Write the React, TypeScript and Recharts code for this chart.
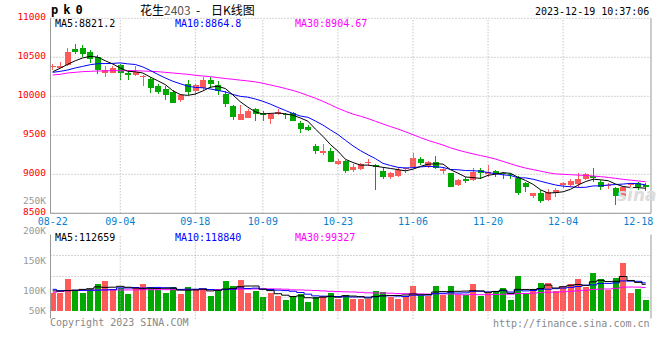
import React from 'react';
import { ComposedChart, Bar, Line, XAxis, YAxis, ReferenceLine, CartesianGrid, Cell } from 'recharts';

// ---------- data ----------
const TICK_IDX = [0, 9, 19, 28, 38, 48, 58, 68, 78];
const TICK_LABELS = ['08-22', '09-04', '09-18', '10-09', '10-23', '11-06', '11-20', '12-04', '12-18'];
const GRID_IDX = [9, 19, 28, 38, 48, 58, 68];
const PRICE_TICKS = [8500, 9000, 9500, 10000, 10500, 11000];
const VOL_TICKS = [50000, 100000, 150000, 200000, 250000];

const OPEN = [10375, 10365, 10397, 10606, 10619, 10568, 10500, 10294, 10303, 10397,
  10303, 10269, 10252, 10217, 10128, 10094, 10055, 9957, 10158, 10064,
  10106, 10213, 10149, 10034, 9876, 9700, 9726, 9838, 9780, 9714,
  9769, 9774, 9786, 9658, 9611, 9367, 9273, 9295, 9133, 9166,
  9055, 9064, 9141, 9115, 9047, 8961, 8978, 9064, 9089, 9196,
  9111, 9162, 9047, 9012, 8859, 8940, 8927, 9055, 9004, 9042,
  9012, 9004, 8948, 8893, 8722, 8765, 8671, 8765, 8863, 8859,
  8876, 8936, 8978, 8906, 8850, 8820, 8722, 8863, 8893, 8863];
const HIGH = [10415, 10440, 10619, 10670, 10662, 10598, 10525, 10384, 10384, 10414,
  10329, 10393, 10269, 10247, 10162, 10136, 10076, 10029, 10209, 10158,
  10243, 10247, 10200, 10064, 9893, 9884, 9838, 9850, 9816, 9786,
  9842, 9790, 9799, 9688, 9628, 9389, 9389, 9337, 9201, 9188,
  9132, 9141, 9192, 9132, 9077, 9034, 9077, 9089, 9269, 9218,
  9175, 9235, 9089, 9021, 8936, 8970, 9077, 9077, 9119, 9055,
  9034, 9021, 8978, 8906, 8765, 8799, 8807, 8820, 8906, 8936,
  9012, 9012, 9077, 8927, 8884, 8842, 8850, 8893, 8906, 8893];
const LOW = [10335, 10360, 10388, 10546, 10504, 10427, 10290, 10243, 10299, 10213,
  10213, 10265, 10136, 10042, 10029, 9957, 9914, 9931, 10021, 10017,
  10076, 10106, 10021, 9863, 9700, 9697, 9722, 9688, 9688, 9650,
  9756, 9714, 9680, 9530, 9560, 9265, 9243, 9158, 9124, 9017,
  9034, 9055, 9106, 8805, 8936, 8936, 8961, 9021, 9077, 9119,
  9077, 9064, 9004, 8833, 8850, 8893, 8918, 8936, 8970, 8970,
  8936, 8936, 8735, 8777, 8692, 8628, 8662, 8713, 8820, 8842,
  8842, 8927, 8906, 8799, 8807, 8607, 8713, 8820, 8799, 8790];
const CLOSE = [10385, 10390, 10568, 10572, 10546, 10482, 10341, 10337, 10363, 10294,
  10269, 10307, 10260, 10106, 10055, 10021, 9918, 10012, 10055, 10141,
  10213, 10162, 10072, 9906, 9735, 9774, 9816, 9774, 9765, 9778,
  9799, 9757, 9688, 9586, 9573, 9295, 9295, 9158, 9166, 9047,
  9089, 9132, 9154, 9098, 8970, 9021, 9055, 9077, 9205, 9149,
  9162, 9077, 9064, 8842, 8927, 8918, 9034, 9021, 9034, 9004,
  8999, 8991, 8765, 8833, 8756, 8662, 8777, 8799, 8884, 8918,
  8936, 8999, 8948, 8842, 8863, 8722, 8842, 8884, 8833, 8842];
const MA5 = [10315, 10360, 10410, 10455, 10492, 10512, 10502, 10456, 10414, 10363,
  10321, 10314, 10299, 10247, 10199, 10150, 10072, 10022, 10012, 10029,
  10068, 10117, 10129, 10099, 10018, 9930, 9861, 9801, 9773, 9781,
  9786, 9775, 9757, 9722, 9681, 9580, 9487, 9381, 9297, 9192,
  9151, 9118, 9118, 9104, 9089, 9075, 9060, 9044, 9066, 9101,
  9130, 9134, 9131, 9059, 9014, 8966, 8957, 8948, 8987, 9002,
  9021, 9012, 8961, 8921, 8871, 8801, 8759, 8765, 8776, 8808,
  8863, 8907, 8937, 8929, 8918, 8875, 8843, 8831, 8829, 8821.2];
const MA10 = [10307, 10320, 10337, 10363, 10384, 10405, 10418, 10420, 10422, 10428,
  10416, 10408, 10377, 10331, 10281, 10235, 10193, 10161, 10130, 10114,
  10109, 10094, 10076, 10056, 10024, 9999, 9989, 9965, 9936, 9900,
  9858, 9818, 9779, 9747, 9731, 9683, 9631, 9569, 9510, 9436,
  9365, 9303, 9250, 9201, 9140, 9113, 9089, 9081, 9085, 9095,
  9102, 9097, 9088, 9062, 9058, 9048, 9046, 9040, 9023, 9008,
  8993, 8985, 8955, 8954, 8937, 8911, 8886, 8863, 8848, 8840,
  8832, 8833, 8851, 8852, 8863, 8869, 8875, 8884, 8879, 8864.8];
const MA30 = [10273, 10282, 10299, 10307, 10316, 10320, 10324, 10326, 10329, 10329,
  10329, 10329, 10324, 10320, 10316, 10307, 10299, 10290, 10282, 10269,
  10260, 10252, 10240, 10228, 10218, 10207, 10197, 10185, 10167, 10145,
  10124, 10100, 10075, 10045, 10010, 9975, 9935, 9892, 9846, 9808,
  9772, 9745, 9715, 9680, 9645, 9612, 9580, 9545, 9508, 9470,
  9435, 9405, 9375, 9340, 9310, 9285, 9262, 9240, 9220, 9195,
  9165, 9135, 9105, 9080, 9060, 9040, 9020, 9005, 9000, 8995,
  8990, 8985, 8978, 8970, 8960, 8948, 8935, 8925, 8915, 8904.67];

const VOL = [77400, 77400, 135000, 88600, 77400, 91500, 115400, 126600, 91500, 95700,
  71800, 97100, 115400, 101300, 88600, 77400, 101300, 71800, 101300, 92900,
  92900, 64700, 85800, 126600, 106900, 130900, 77400, 85800, 59100, 77400,
  64700, 46400, 59100, 71800, 38000, 59100, 64700, 77400, 52100, 68900,
  52100, 52100, 49200, 85800, 80200, 60500, 52100, 60500, 106900, 63300,
  63300, 106900, 68900, 106900, 68900, 68900, 115400, 63300, 77400, 85800,
  98500, 46400, 149100, 74600, 85800, 119600, 119600, 85800, 102700, 115400,
  135000, 102700, 160400, 135000, 88600, 139300, 204000, 77400, 94300, 46400];
const VMA5 = [85000, 84000, 86000, 88000, 91200, 94000, 101600, 99900, 100500, 104100,
  100200, 96500, 94300, 96300, 94800, 96000, 96800, 88100, 88100, 88900,
  92000, 84700, 87500, 92600, 95400, 103000, 105500, 105500, 92000, 86100,
  72900, 66700, 61300, 63900, 56000, 54900, 58500, 62200, 58300, 64400,
  63000, 60500, 54900, 61600, 63900, 65600, 65600, 67800, 72000, 68700,
  69200, 80200, 81900, 81900, 83000, 84100, 85800, 84700, 78800, 82200,
  88100, 74300, 91400, 90900, 90900, 95100, 109700, 97100, 102700, 108600,
  111700, 108300, 123200, 129700, 124300, 125200, 145500, 128900, 120700, 112659];
const VMA10 = [91500, 86000, 86500, 87000, 87000, 87500, 88000, 89000, 90000, 97700,
  97100, 99100, 97100, 98400, 99500, 98100, 96700, 91200, 92200, 91900,
  94000, 90800, 87800, 90300, 92200, 97500, 95100, 96500, 92300, 90800,
  87900, 86100, 83400, 78000, 71100, 63900, 62600, 61800, 61100, 60200,
  59000, 59500, 58500, 59900, 64200, 64300, 63000, 61400, 66800, 66300,
  67400, 72900, 74800, 77000, 75800, 76700, 83000, 83300, 80300, 82600,
  86100, 80000, 88100, 84800, 86500, 91600, 92000, 94300, 96800, 99800,
  103400, 109000, 110200, 116200, 116500, 118500, 126900, 126100, 125200, 118840];
const VMA30 = [79000, 82000, 85000, 87000, 88000, 88000, 89000, 89000, 89000, 89000,
  89000, 89000, 90000, 90000, 90000, 90000, 90000, 90000, 90000, 90000,
  90000, 90000, 90000, 91000, 91500, 92000, 92500, 93000, 93200, 93400,
  93000, 92000, 89400, 88900, 87600, 86500, 84800, 83200, 81800, 81000,
  80300, 78800, 76600, 76100, 75800, 75200, 73600, 73200, 73400, 72400,
  71400, 72800, 72300, 71600, 70300, 68300, 69500, 68800, 69400, 69700,
  70800, 70800, 73800, 73900, 75500, 77500, 79300, 79600, 81300, 82900,
  85600, 87300, 91000, 92700, 92900, 95600, 100600, 101200, 100800, 99327];

// ---------- styling constants ----------
const RED = '#ff5a5a';
const GREEN = '#00a800';
const GRID = '#aaaaaa';
const FRAME = '#999999';
const MONO = '"DejaVu Sans Mono", "Liberation Mono", monospace';
const X_DOMAIN: [number, number] = [-0.293, 79.707];
const VOL_LABEL_MAX_Y = 310.7;

const rows = OPEN.map((o, i) => ({
  i,
  open: o,
  high: HIGH[i],
  low: LOW[i],
  close: CLOSE[i],
  range: [LOW[i], HIGH[i]],
  ma5: MA5[i],
  ma10: MA10[i],
  ma30: MA30[i],
  vol: VOL[i],
  vma5: VMA5[i],
  vma10: VMA10[i],
  vma30: VMA30[i],
}));

const isUp = (r: any) => r.close >= r.open;

function Candle(props: any) {
  const { x, y, width, height } = props;
  const p = props.payload || props;
  const color = isUp(p) ? RED : GREEN;
  const span = p.high - p.low;
  const k = span > 0 ? height / span : 0;
  const yO = y + (p.high - p.open) * k;
  const yC = y + (p.high - p.close) * k;
  const top = Math.min(yO, yC);
  const h = Math.max(Math.abs(yO - yC), 1);
  const cx = Math.floor(x + width / 2) + 0.5;
  return (
    <g>
      <line x1={cx} x2={cx} y1={y} y2={y + Math.max(height, 1)} stroke={color} strokeWidth={1} shapeRendering="crispEdges" />
      <rect x={Math.round(x)} y={top} width={width} height={h} fill={color} shapeRendering="crispEdges" />
    </g>
  );
}

function VolBar(props: any) {
  const { x, y, width, height, fill } = props;
  return <rect x={Math.round(x)} y={y} width={width} height={height} fill={fill} shapeRendering="crispEdges" />;
}

function PriceTick(props: any) {
  const { x, y, payload } = props;
  return (
    <text x={x} y={y + 2} textAnchor="end" fill="#ff0000" fontSize={9.5} fontFamily={MONO}>
      {payload.value}
    </text>
  );
}

function DateTick(props: any) {
  const { x, y, payload } = props;
  const idx = TICK_IDX.indexOf(payload.value);
  return (
    <text x={x} y={y + 7.3} textAnchor="middle" fill="#0a7fd0" fontSize={10} fontFamily={MONO}>
      {idx >= 0 ? TICK_LABELS[idx] : ''}
    </text>
  );
}

function VolTick(props: any) {
  const { x, y, payload } = props;
  const yy = Math.min(y, VOL_LABEL_MAX_Y);
  return (
    <text x={x} y={yy + 3.5} textAnchor="end" fill="#999999" fontSize={9.5} fontFamily={MONO}>
      {payload.value / 1000 + 'K'}
    </text>
  );
}

const abs = (left: number, top: number, extra: any = {}) => ({
  position: 'absolute' as const,
  left,
  top,
  whiteSpace: 'pre' as const,
  lineHeight: '12px',
  ...extra,
});

export default function App() {
  return (
    <div style={{ position: 'absolute', left: 0, top: 0, width: 660, height: 360, background: '#fff', overflow: 'hidden' }}>
      {/* price chart */}
      <div style={{ position: 'absolute', left: 0, top: 0 }}>
        <ComposedChart width={660} height={232} data={rows} margin={{ top: 18.3, right: 0, bottom: 0, left: 0 }}>
          <CartesianGrid yAxisId="p" vertical={false} stroke={GRID} strokeDasharray="1 2" />
          <XAxis dataKey="i" type="number" domain={X_DOMAIN} allowDataOverflow ticks={TICK_IDX} interval={0}
            tickLine={false} tickSize={0} tickMargin={4.4} height={18.7}
            axisLine={{ stroke: FRAME }} tick={<DateTick />} />
          <YAxis yAxisId="p" domain={[8500, 11000]} allowDataOverflow ticks={PRICE_TICKS} interval={0}
            width={50.5} tickLine={false} tickSize={0} tickMargin={4.5}
            axisLine={{ stroke: FRAME }} tick={<PriceTick />} />
          <YAxis yAxisId="pr" orientation="right" width={9} tick={false} tickLine={false} axisLine={{ stroke: FRAME }} />
          {GRID_IDX.map((g) => (
            <ReferenceLine key={g} x={g} yAxisId="p" stroke={GRID} strokeDasharray="1 2" />
          ))}
          <Bar yAxisId="p" dataKey="range" barSize={6} shape={<Candle />} isAnimationActive={false} />
          <Line yAxisId="p" dataKey="ma30" type="linear" stroke="#ff00ff" strokeWidth={1} dot={false} isAnimationActive={false} />
          <Line yAxisId="p" dataKey="ma10" type="linear" stroke="#0000ff" strokeWidth={1} dot={false} isAnimationActive={false} />
          <Line yAxisId="p" dataKey="ma5" type="linear" stroke="#000000" strokeWidth={1} dot={false} isAnimationActive={false} />
        </ComposedChart>
      </div>

      {/* volume chart */}
      <div style={{ position: 'absolute', left: 0, top: 0 }}>
        <ComposedChart width={660} height={340} data={rows} margin={{ top: 234.5, right: 0, bottom: 21.5, left: 0 }}>
          <CartesianGrid yAxisId="v" vertical={false} stroke={GRID} strokeDasharray="1 2"
            horizontalCoordinatesGenerator={({ offset }: any) => [1, 2, 3].map((k) => offset.top + (offset.height * k) / 4)} />
          <XAxis dataKey="i" type="number" domain={X_DOMAIN} allowDataOverflow tick={false} tickLine={false}
            height={0} axisLine={{ stroke: FRAME }} />
          <XAxis xAxisId="top" orientation="top" dataKey="i" type="number" domain={X_DOMAIN} allowDataOverflow
            tick={false} tickLine={false} height={0} axisLine={{ stroke: FRAME }} />
          <YAxis yAxisId="l" domain={[53700, 193700]} allowDataOverflow ticks={VOL_TICKS} interval={0}
            width={50.5} tickLine={false} tickSize={0} tickMargin={4.5}
            axisLine={{ stroke: FRAME }} tick={<VolTick />} />
          <YAxis yAxisId="v" domain={[-31600, 322800]} allowDataOverflow hide />
          <YAxis yAxisId="vr" orientation="right" width={9} tick={false} tickLine={false} axisLine={{ stroke: FRAME }} />
          {GRID_IDX.map((g) => (
            <ReferenceLine key={g} x={g} yAxisId="v" stroke={GRID} strokeDasharray="1 2" />
          ))}
          <Bar yAxisId="v" dataKey="vol" barSize={6} shape={<VolBar />} isAnimationActive={false}>
            {rows.map((r) => (
              <Cell key={r.i} fill={isUp(r) ? RED : GREEN} />
            ))}
          </Bar>
          <Line yAxisId="v" dataKey="vma30" type="step" stroke="#ff00ff" strokeWidth={1} dot={false} isAnimationActive={false} />
          <Line yAxisId="v" dataKey="vma10" type="step" stroke="#0000ff" strokeWidth={1} dot={false} isAnimationActive={false} />
          <Line yAxisId="v" dataKey="vma5" type="step" stroke="#000000" strokeWidth={1} dot={false} isAnimationActive={false} />
        </ComposedChart>
      </div>

      {/* texts */}
      <div style={abs(51, 4, { fontFamily: MONO, fontWeight: 'bold', fontSize: 12, letterSpacing: '5px', color: '#000' })}>pk0</div>
      <div style={abs(140, 4, { fontFamily: '"Noto Sans CJK SC", sans-serif', fontSize: 12, color: '#000' })}>
        {'花生'}<span style={{ color: '#555' }}>2403</span>{'  -    日K线图'}
      </div>
      <div style={abs(535, 6, { fontFamily: MONO, fontSize: 10, color: '#000' })}>2023-12-19 10:37:06</div>

      <div style={abs(55, 18, { fontFamily: MONO, fontSize: 10, color: '#000' })}>MA5:8821.2</div>
      <div style={abs(175, 18, { fontFamily: MONO, fontSize: 10, color: '#0000ff' })}>MA10:8864.8</div>
      <div style={abs(295, 18, { fontFamily: MONO, fontSize: 10, color: '#ff00ff' })}>MA30:8904.67</div>

      <div style={abs(55, 232, { fontFamily: MONO, fontSize: 10, color: '#000' })}>MA5:112659</div>
      <div style={abs(175, 232, { fontFamily: MONO, fontSize: 10, color: '#0000ff' })}>MA10:118840</div>
      <div style={abs(295, 232, { fontFamily: MONO, fontSize: 10, color: '#ff00ff' })}>MA30:99327</div>

      <div style={abs(617, 189, { fontFamily: '"DejaVu Sans", sans-serif', fontSize: 17, fontStyle: 'italic', fontWeight: 'bold', color: '#dcdcdc' })}>sina</div>

      <div style={abs(50, 317, { fontFamily: MONO, fontSize: 10, color: '#888' })}>Copyright 2023 SINA.COM</div>
      <div style={abs(493, 318, { fontFamily: MONO, fontSize: 10, color: '#888' })}>http://finance.sina.com.cn</div>
    </div>
  );
}
